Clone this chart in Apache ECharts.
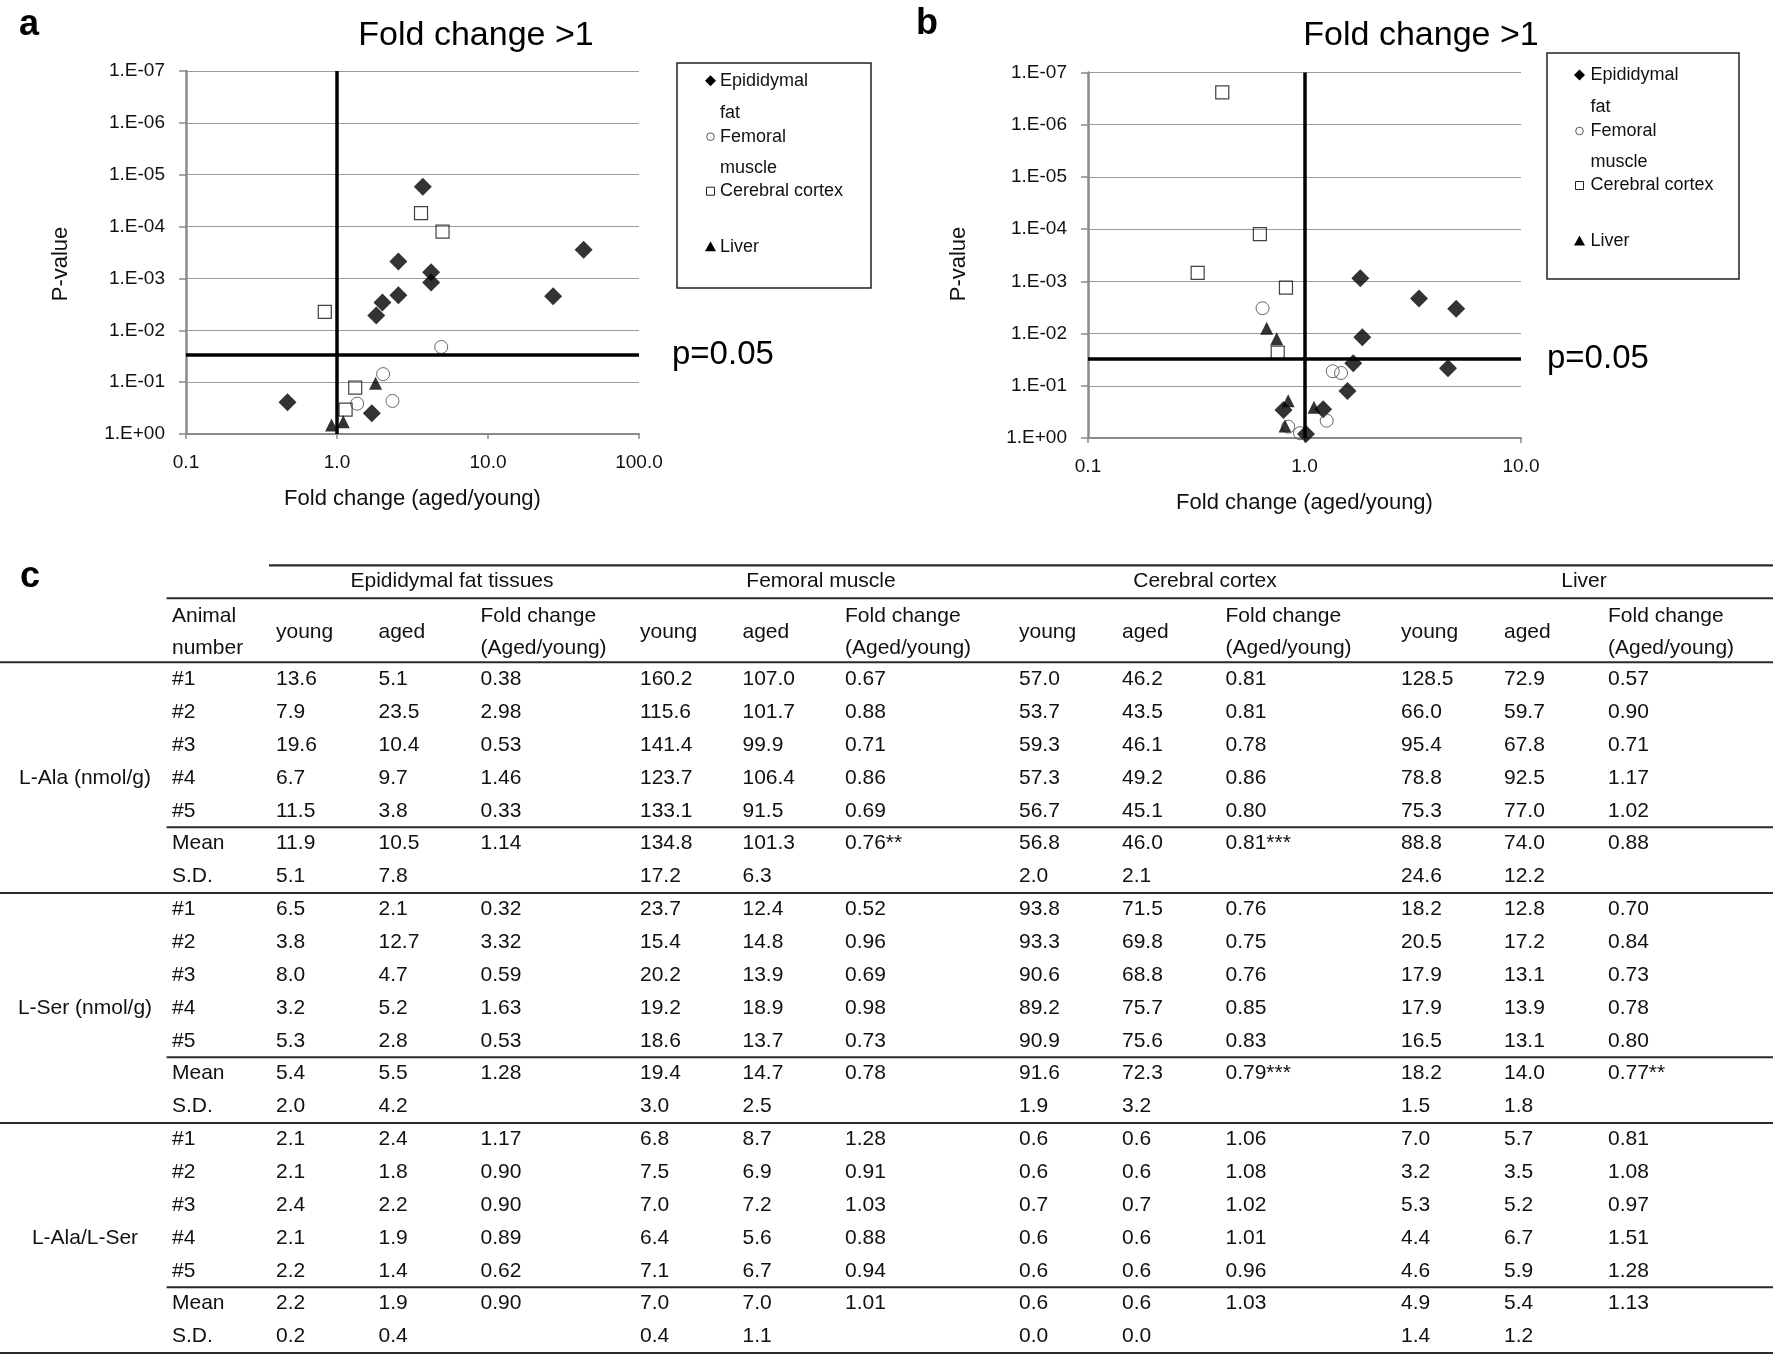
<!DOCTYPE html>
<html><head><meta charset="utf-8">
<script src="https://cdn.jsdelivr.net/npm/echarts@6/dist/echarts.min.js"></script>
<style>html,body{margin:0;padding:0;background:#fff}#c{width:1773px;height:1357px}</style>
</head><body><div id="c"></div>
<script>
// ---------------- DATA ----------------
// Panel a: [fold change (aged/young), P-value]
const aFat    = [[3.7,1.7e-5],[2.55,4.7e-4],[4.2,7.6e-4],[4.2,1.2e-3],[2.55,2.1e-3],[2.0,2.9e-3],[1.82,5.2e-3],[43,2.8e-4],[27,2.2e-3],[0.47,0.245],[1.7,0.4]];
const aMuscle = [[4.9,0.021],[2.02,0.07],[2.33,0.23],[1.36,0.26]];
const aCortex = [[3.6,5.5e-5],[5.0,1.25e-4],[0.83,4.4e-3],[1.32,0.128],[1.14,0.34]];
const aLiver  = [[1.8,0.105],[1.1,0.58],[0.92,0.67]];
// Panel b
const bFat    = [[1.81,8.7e-4],[3.38,2.13e-3],[5.02,3.33e-3],[1.85,0.0118],[1.68,0.037],[4.6,0.046],[1.58,0.126],[1.22,0.282],[0.8,0.291],[1.016,0.84]];
const bMuscle = [[0.64,3.27e-3],[1.35,0.0527],[1.475,0.0569],[1.266,0.466],[0.841,0.607],[0.953,0.81]];
const bCortex = [[0.417,2.4e-7],[0.622,1.25e-4],[0.321,6.9e-4],[0.821,1.32e-3],[0.752,0.0232]];
const bLiver  = [[0.669,7.9e-3],[0.744,0.0125],[0.841,0.193],[1.106,0.258],[0.813,0.589]];

const seriesNames = ['Epididymal fat','Femoral muscle','Cerebral cortex','Liver'];
const legendLines = [['Epididymal','fat'],['Femoral','muscle'],['Cerebral cortex'],['Liver']];
const chartTitle = 'Fold change >1';
const xName = 'Fold change (aged/young)';
const yName = 'P-value';
const pLabel = 'p=0.05';
const pLinePos = 0.031;      // where the threshold line is drawn in the figure
const foldLinePos = 1;
const aXRange = [0.1, 100];
const bXRange = [0.1, 10];
const yRange = [1e-7, 1];

// Panel c table
const tissues = ['Epididymal fat tissues','Femoral muscle','Cerebral cortex','Liver'];
const headAnimal = ['Animal','number'];
const headYoung = 'young';
const headAged = 'aged';
const headFold = ['Fold change','(Aged/young)'];
const rowLabels = ['#1','#2','#3','#4','#5','Mean','S.D.'];
const blockLabels = ['L-Ala (nmol/g)','L-Ser (nmol/g)','L-Ala/L-Ser'];

const alaFat    = [['13.6','5.1','0.38'],['7.9','23.5','2.98'],['19.6','10.4','0.53'],['6.7','9.7','1.46'],['11.5','3.8','0.33'],['11.9','10.5','1.14'],['5.1','7.8','']];
const alaMuscle = [['160.2','107.0','0.67'],['115.6','101.7','0.88'],['141.4','99.9','0.71'],['123.7','106.4','0.86'],['133.1','91.5','0.69'],['134.8','101.3','0.76**'],['17.2','6.3','']];
const alaCortex = [['57.0','46.2','0.81'],['53.7','43.5','0.81'],['59.3','46.1','0.78'],['57.3','49.2','0.86'],['56.7','45.1','0.80'],['56.8','46.0','0.81***'],['2.0','2.1','']];
const alaLiver  = [['128.5','72.9','0.57'],['66.0','59.7','0.90'],['95.4','67.8','0.71'],['78.8','92.5','1.17'],['75.3','77.0','1.02'],['88.8','74.0','0.88'],['24.6','12.2','']];

const serFat    = [['6.5','2.1','0.32'],['3.8','12.7','3.32'],['8.0','4.7','0.59'],['3.2','5.2','1.63'],['5.3','2.8','0.53'],['5.4','5.5','1.28'],['2.0','4.2','']];
const serMuscle = [['23.7','12.4','0.52'],['15.4','14.8','0.96'],['20.2','13.9','0.69'],['19.2','18.9','0.98'],['18.6','13.7','0.73'],['19.4','14.7','0.78'],['3.0','2.5','']];
const serCortex = [['93.8','71.5','0.76'],['93.3','69.8','0.75'],['90.6','68.8','0.76'],['89.2','75.7','0.85'],['90.9','75.6','0.83'],['91.6','72.3','0.79***'],['1.9','3.2','']];
const serLiver  = [['18.2','12.8','0.70'],['20.5','17.2','0.84'],['17.9','13.1','0.73'],['17.9','13.9','0.78'],['16.5','13.1','0.80'],['18.2','14.0','0.77**'],['1.5','1.8','']];

const ratioFat    = [['2.1','2.4','1.17'],['2.1','1.8','0.90'],['2.4','2.2','0.90'],['2.1','1.9','0.89'],['2.2','1.4','0.62'],['2.2','1.9','0.90'],['0.2','0.4','']];
const ratioMuscle = [['6.8','8.7','1.28'],['7.5','6.9','0.91'],['7.0','7.2','1.03'],['6.4','5.6','0.88'],['7.1','6.7','0.94'],['7.0','7.0','1.01'],['0.4','1.1','']];
const ratioCortex = [['0.6','0.6','1.06'],['0.6','0.6','1.08'],['0.7','0.7','1.02'],['0.6','0.6','1.01'],['0.6','0.6','0.96'],['0.6','0.6','1.03'],['0.0','0.0','']];
const ratioLiver  = [['7.0','5.7','0.81'],['3.2','3.5','1.08'],['5.3','5.2','0.97'],['4.4','6.7','1.51'],['4.6','5.9','1.28'],['4.9','5.4','1.13'],['1.4','1.2','']];

// ---------------- LAYOUT / STYLE ----------------
const FONT = '"Liberation Sans", Arial, Helvetica, sans-serif';
const chart = echarts.init(document.getElementById('c'), null, {renderer:'canvas', width:1773, height:1357});

function yFmt(v){ const e = Math.round(Math.log10(v)); return e === 0 ? '1.E+00' : '1.E-' + String(-e).padStart(2,'0'); }
function xFmt(v){ return Number(v).toFixed(1); }

const symStyles = [
  {symbol:'diamond', symbolSize:[18,18], itemStyle:{color:'#000'}},
  {symbol:'circle', symbolSize:13, itemStyle:{color:'rgba(0,0,0,0)', borderColor:'#444', borderWidth:1}},
  {symbol:'rect', symbolSize:[13,13], itemStyle:{color:'rgba(0,0,0,0)', borderColor:'#111', borderWidth:1.2}},
  {symbol:'triangle', symbolSize:[13,13], itemStyle:{color:'#000'}}
];

const grids = [
  {left:186, top:71, width:453, height:363},
  {left:1088, top:72.5, width:433, height:365.5}
];

function makeXAxis(gi, range){
  return {type:'log', logBase:10, gridIndex:gi, min:range[0], max:range[1], splitNumber:5,
    name:xName, nameLocation:'middle', nameGap:54,
    nameTextStyle:{fontSize:22, fontFamily:FONT, color:'#111'},
    axisLine:{show:true, lineStyle:{color:'#8a8a8a', width:2}},
    axisTick:{show:true, length:5, lineStyle:{color:'#8a8a8a', width:1.5}},
    axisLabel:{formatter:xFmt, fontSize:19, fontFamily:FONT, color:'#111', margin:19},
    splitLine:{show:false}};
}
function makeYAxis(gi){
  return {type:'log', logBase:10, gridIndex:gi, min:yRange[0], max:yRange[1], inverse:true, splitNumber:7,
    axisLine:{show:true, lineStyle:{color:'#8a8a8a', width:2.5}},
    axisTick:{show:true, length:7, lineStyle:{color:'#8a8a8a', width:1.5}},
    axisLabel:{formatter:yFmt, fontSize:19, fontFamily:FONT, color:'#111', margin:21},
    splitLine:{show:true, lineStyle:{color:'#9a9a9a', width:1.2}}};
}

function makeSeries(gi, sets, labelDist){
  const out = sets.map((d, i) => Object.assign({
    type:'scatter', name:seriesNames[i], xAxisIndex:gi, yAxisIndex:gi, data:d,
    emphasis:{disabled:true}, animation:false, z:3
  }, symStyles[i]));
  out.push({
    type:'scatter', name:'threshold-' + gi, xAxisIndex:gi, yAxisIndex:gi, data:[], silent:true, animation:false,
    markLine:{silent:true, symbol:['none','none'], animation:false,
      lineStyle:{color:'#000', width:3.5, type:'solid'},
      label:{show:false},
      data:[
        {xAxis:foldLinePos},
        {yAxis:pLinePos, label:{show:true, position:'end', formatter:pLabel, fontSize:33, fontFamily:FONT, color:'#000', distance:labelDist}}
      ]}
  });
  return out;
}

// ---------------- GRAPHIC (letters, axis titles, legends, table) ----------------
const G = [];
function txt(x, y, t, size, opt){
  opt = opt || {};
  G.push({type:'text', x:x, y:y, rotation:opt.rot || 0, silent:true,
    style:{text:t, fill:opt.color || '#111', fontSize:size, fontFamily:FONT, fontWeight:opt.bold ? 'bold' : 'normal',
      align:opt.align || 'left', verticalAlign:opt.va || 'middle'}});
}
function hline(x1, x2, y, w, c){
  G.push({type:'line', silent:true, shape:{x1:x1, y1:y, x2:x2, y2:y}, style:{stroke:c || '#2a2a2a', lineWidth:w || 2}});
}

txt(29, 25, 'a', 36, {bold:true, align:'center', color:'#000'});
txt(927, 24, 'b', 36, {bold:true, align:'center', color:'#000'});
txt(30, 577, 'c', 36, {bold:true, align:'center', color:'#000'});
txt(61, 264, yName, 22, {rot:Math.PI/2, align:'center'});
txt(959, 264, yName, 22, {rot:Math.PI/2, align:'center'});

function legendBox(box, symX, textX, firstY){
  const offs = [[0,32.5],[56,87],[110.5],[166]];
  G.push({type:'rect', silent:true, shape:{x:box[0], y:box[1], width:box[2]-box[0], height:box[3]-box[1]},
    style:{fill:'#fff', stroke:'#222', lineWidth:1.5}});
  legendLines.forEach((lines, i) => {
    const cy = firstY + offs[i][0];
    lines.forEach((l, j) => txt(textX, firstY + offs[i][j], l, 18, {color:'#111'}));
    if (i === 0) G.push({type:'polygon', silent:true, shape:{points:[[symX,cy-5.5],[symX+5.5,cy],[symX,cy+5.5],[symX-5.5,cy]]}, style:{fill:'#000'}});
    if (i === 1) G.push({type:'circle', silent:true, shape:{cx:symX, cy:cy, r:3.8}, style:{fill:'none', stroke:'#555', lineWidth:1}});
    if (i === 2) G.push({type:'rect', silent:true, shape:{x:symX-4, y:cy-4, width:8, height:8}, style:{fill:'none', stroke:'#222', lineWidth:1}});
    if (i === 3) G.push({type:'polygon', silent:true, shape:{points:[[symX,cy-5.5],[symX+5.5,cy+4.5],[symX-5.5,cy+4.5]]}, style:{fill:'#000'}});
  });
}
legendBox([677, 63, 871, 288], 710.5, 720, 80.7);
legendBox([1547, 53, 1739, 279], 1579.5, 1590.5, 75);

// table
const TF = 21;
const colAnimal = 172, colLabel = 85;
const tissueCols = [[276, 378.5, 480.5], [640, 742.5, 845], [1019, 1122, 1225.5], [1401, 1504, 1608]];
const tissueCenters = [452, 821, 1205, 1584];
const row0 = 679.3, rowH = 32.86;
const W = 1773;
const blocks = [
  [alaFat, alaMuscle, alaCortex, alaLiver],
  [serFat, serMuscle, serCortex, serLiver],
  [ratioFat, ratioMuscle, ratioCortex, ratioLiver]
];
hline(269, W, 565.4, 2.2);
hline(166.6, W, 598.3, 2);
hline(0, W, 662.3, 2);
tissues.forEach((t, i) => txt(tissueCenters[i], 581.7, t, TF, {align:'center'}));
txt(colAnimal, 616, headAnimal[0], TF);
txt(colAnimal, 648.3, headAnimal[1], TF);
tissueCols.forEach(c => {
  txt(c[0], 632.7, headYoung, TF);
  txt(c[1], 632.7, headAged, TF);
  txt(c[2], 616, headFold[0], TF);
  txt(c[2], 648.3, headFold[1], TF);
});
blocks.forEach((blk, b) => {
  const base = 7 * b;
  txt(colLabel, row0 + rowH * (base + 3), blockLabels[b], TF, {align:'center'});
  rowLabels.forEach((rl, r) => txt(colAnimal, row0 + rowH * (base + r), rl, TF));
  blk.forEach((tissueRows, ti) => {
    tissueRows.forEach((vals, r) => {
      vals.forEach((v, k) => { if (v) txt(tissueCols[ti][k], row0 + rowH * (base + r), v, TF); });
    });
  });
  hline(166.6, W, row0 + rowH * (base + 4.5), 2);
  hline(0, W, row0 + rowH * (base + 6.5), 2);
});

// ---------------- OPTION ----------------
const option = {
  backgroundColor:'#fff',
  animation:false,
  title:[
    {text:chartTitle, left:476, top:19, textAlign:'center', padding:0, textStyle:{fontSize:34, fontWeight:'normal', fontFamily:FONT, color:'#000'}},
    {text:chartTitle, left:1421, top:19, textAlign:'center', padding:0, textStyle:{fontSize:34, fontWeight:'normal', fontFamily:FONT, color:'#000'}}
  ],
  grid:grids,
  xAxis:[makeXAxis(0, aXRange), makeXAxis(1, bXRange)],
  yAxis:[makeYAxis(0), makeYAxis(1)],
  series:[].concat(
    makeSeries(0, [aFat, aMuscle, aCortex, aLiver], 33),
    makeSeries(1, [bFat, bMuscle, bCortex, bLiver], 26)
  ),
  graphic:G
};
chart.setOption(option);
</script>
</body></html>
